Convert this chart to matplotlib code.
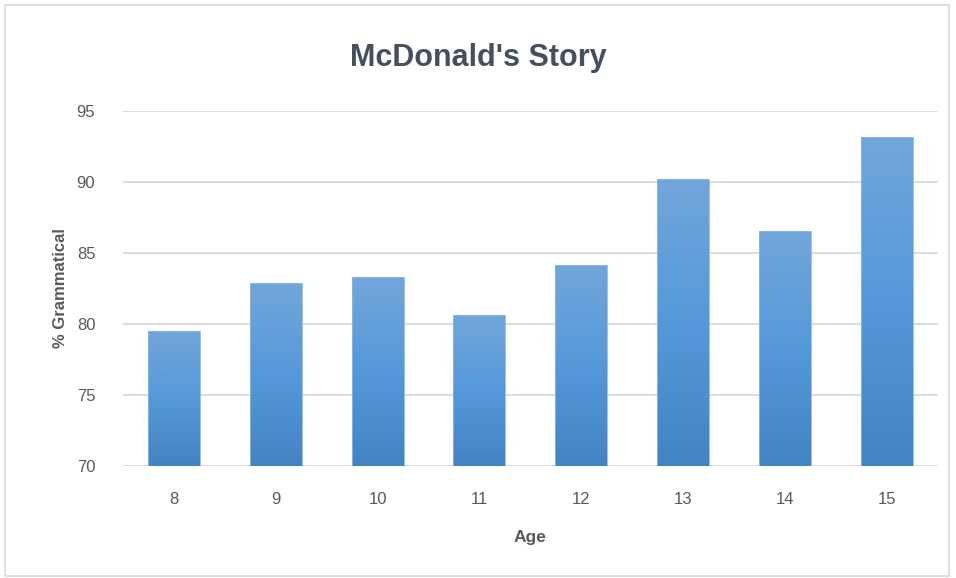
import numpy as np
import matplotlib.pyplot as plt
from matplotlib.colors import LinearSegmentedColormap
from matplotlib.patches import Rectangle

ages = ['8', '9', '10', '11', '12', '13', '14', '15']
pct_grammatical = [79.5, 82.9, 83.3, 80.6, 84.15, 90.2, 86.55, 93.2]
y_ticks = [70, 75, 80, 85, 90, 95]

plt.rcParams['font.family'] = ['Liberation Sans', 'DejaVu Sans']

fig = plt.figure(figsize=(9.56, 5.78), dpi=100)
ax = fig.add_axes([0.1287, 0.1938, 0.852, 0.6142])

# gradient fill like the spreadsheet bars (light top, darker bottom)
grad = LinearSegmentedColormap.from_list('bar', ['#4283C3', '#5599DA', '#72A6DA'])
x = np.arange(len(ages))
bars = ax.bar(x, pct_grammatical, width=0.51, bottom=0, color='none',
              edgecolor='#8DB8E4', linewidth=0.6, zorder=3)
ymin, ymax = 70, 95
for b in bars:
    x0 = b.get_x()
    w = b.get_width()
    h = b.get_height()
    img = np.linspace(0, 1, 256).reshape(-1, 1)
    im = ax.imshow(img, cmap=grad, aspect='auto', origin='lower',
                   extent=[x0, x0 + w, ymin, h], zorder=2)
    im.set_clip_path(b)

ax.set_xlim(-0.5, len(ages) - 0.5)
ax.set_ylim(ymin, ymax)
ax.set_xticks(x)
ax.set_xticklabels(ages)
ax.set_yticks(y_ticks)
ax.grid(axis='y', color='#D9D9D9', linewidth=1.3, zorder=0)
ax.set_axisbelow(True)
for s in ax.spines.values():
    s.set_visible(False)
ax.tick_params(length=0, labelsize=12, colors='#595959')
ax.tick_params(axis='x', pad=19)
ax.tick_params(axis='y', pad=20)

ax.set_xlabel('Age', fontsize=12.5, fontweight='bold', color='#595959', labelpad=16)
ax.set_ylabel('% Grammatical', fontsize=12, fontweight='bold', color='#595959', labelpad=6)
fig.text(0.5, 0.9, "McDonald's Story", ha='center', va='center',
         fontsize=22, fontweight='bold', color='#44505E')

fig.patches.append(Rectangle((0.005, 0.004), 0.988, 0.988, transform=fig.transFigure,
                             fill=False, edgecolor='#D9D9D9', linewidth=1.2))

fig.savefig('out.png', dpi=100)
